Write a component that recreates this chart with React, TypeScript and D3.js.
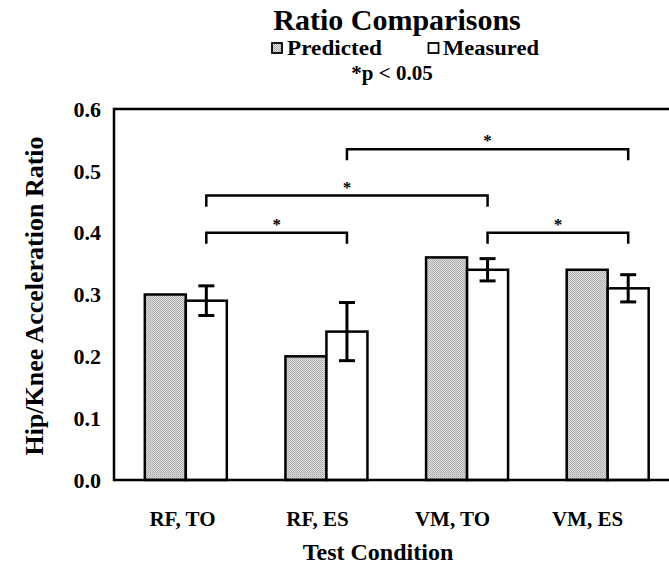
import React from "react";
import * as d3 from "d3";

const categories = ["RF, TO", "RF, ES", "VM, TO", "VM, ES"];
const seriesNames = ["Predicted", "Measured"];
const predicted = [0.30, 0.20, 0.36, 0.34];
const measured = [0.29, 0.24, 0.34, 0.31];
const measuredErr = [0.024, 0.047, 0.018, 0.022];
const yTicks = [0.0, 0.1, 0.2, 0.3, 0.4, 0.5, 0.6];
// significance brackets: [from category idx, to category idx, level]
const sigFrom = [0, 0, 1, 2];
const sigTo = [1, 2, 3, 3];
const sigLevel = [0.40, 0.46, 0.535, 0.40];

const W = 669;
const H = 568;
const FONT = "'Liberation Serif', 'Times New Roman', serif";

export default function App() {
  const left = 114;
  const top = 109;
  const bottom = 480;
  const y = d3.scaleLinear().domain([0, 0.6]).range([bottom, top]);
  const x0 = d3.scaleBand<string>().domain(categories).range([115.5, 678]).padding(0);
  const xLab = d3.scaleBand<string>().domain(categories).range([115, 655]).padding(0);
  const barW = 41;
  const x1 = d3.scaleBand<string>().domain(seriesNames).range([-barW, barW]).padding(0);
  const cx = (c: string) => (x0(c) as number) + x0.bandwidth() / 2;
  const measCenter = (i: number) => cx(categories[i]) + (x1("Measured") as number) + x1.bandwidth() / 2;
  const drop = 0.018;
  const cap = 8;

  return (
    <svg width={W} height={H} style={{ position: "absolute", left: 0, top: 0, background: "#fff" }} fontFamily={FONT}>
      <defs>
        <pattern id="stip" width="2" height="2" patternUnits="userSpaceOnUse">
          <rect width="2" height="2" fill="#dedede" />
          <rect width="1" height="1" fill="#a6a6a6" />
          <rect x="1" y="1" width="1" height="1" fill="#b6b6b6" />
        </pattern>
      </defs>
      <rect width={W} height={H} fill="#fff" />

      {/* title & legend */}
      <text x={397} y={30} textAnchor="middle" fontSize={30} fontWeight="bold">Ratio Comparisons</text>
      <rect x={272} y={43} width={10} height={10} fill="url(#stip)" stroke="#000" strokeWidth={1.8} />
      <text x={287} y={55} fontSize={20} fontWeight="bold" textLength={95} lengthAdjust="spacingAndGlyphs">Predicted</text>
      <rect x={428.5} y={43} width={10} height={10} fill="#fff" stroke="#000" strokeWidth={1.8} />
      <text x={443} y={55} fontSize={20} fontWeight="bold" textLength={96} lengthAdjust="spacingAndGlyphs">Measured</text>
      <text x={392} y={80} textAnchor="middle" fontSize={21} fontWeight="bold">*p &lt; 0.05</text>

      {/* bars */}
      {categories.map((c, i) => (
        <g key={c}>
          <rect x={cx(c) + (x1("Predicted") as number)} y={y(predicted[i])} width={x1.bandwidth()} height={bottom - y(predicted[i])} fill="url(#stip)" stroke="#000" strokeWidth={2.5} />
          <rect x={cx(c) + (x1("Measured") as number)} y={y(measured[i])} width={x1.bandwidth()} height={bottom - y(measured[i])} fill="#fff" stroke="#000" strokeWidth={2.5} />
          <g stroke="#000" strokeWidth={3}>
            <line x1={measCenter(i)} x2={measCenter(i)} y1={y(measured[i] + measuredErr[i])} y2={y(measured[i] - measuredErr[i])} />
            <line x1={measCenter(i) - cap} x2={measCenter(i) + cap} y1={y(measured[i] + measuredErr[i])} y2={y(measured[i] + measuredErr[i])} />
            <line x1={measCenter(i) - cap} x2={measCenter(i) + cap} y1={y(measured[i] - measuredErr[i])} y2={y(measured[i] - measuredErr[i])} />
          </g>
        </g>
      ))}

      {/* axes frame */}
      <g stroke="#000" strokeWidth={2.5} fill="none">
        <line x1={left} x2={W} y1={top} y2={top} />
        <line x1={left} x2={W} y1={bottom} y2={bottom} />
        <line x1={left} x2={left} y1={top - 1.2} y2={bottom + 1.2} />
      </g>

      {/* significance brackets */}
      {sigFrom.map((f, k) => {
        const xa = measCenter(f);
        const xb = measCenter(sigTo[k]);
        const yl = y(sigLevel[k]);
        const yd = y(sigLevel[k] - drop);
        return (
          <g key={k}>
            <path d={`M${xa},${yd}V${yl}H${xb}V${yd}`} fill="none" stroke="#000" strokeWidth={2.5} />
            <text x={(xa + xb) / 2} y={yl - 3} textAnchor="middle" fontSize={17} fontWeight="bold">*</text>
          </g>
        );
      })}

      {/* y ticks */}
      {yTicks.map((t) => (
        <text key={t} x={101} y={y(t)} dy="0.35em" textAnchor="end" fontSize={22} fontWeight="bold">{d3.format(".1f")(t)}</text>
      ))}
      {/* x labels */}
      {categories.map((c) => (
        <text key={c} x={(xLab(c) as number) + xLab.bandwidth() / 2} y={526} textAnchor="middle" fontSize={21} fontWeight="bold">{c}</text>
      ))}
      <text x={378} y={560} textAnchor="middle" fontSize={24} fontWeight="bold">Test Condition</text>
      <text transform={`translate(43,296) rotate(-90)`} textAnchor="middle" fontSize={26} fontWeight="bold">Hip/Knee Acceleration Ratio</text>
    </svg>
  );
}
